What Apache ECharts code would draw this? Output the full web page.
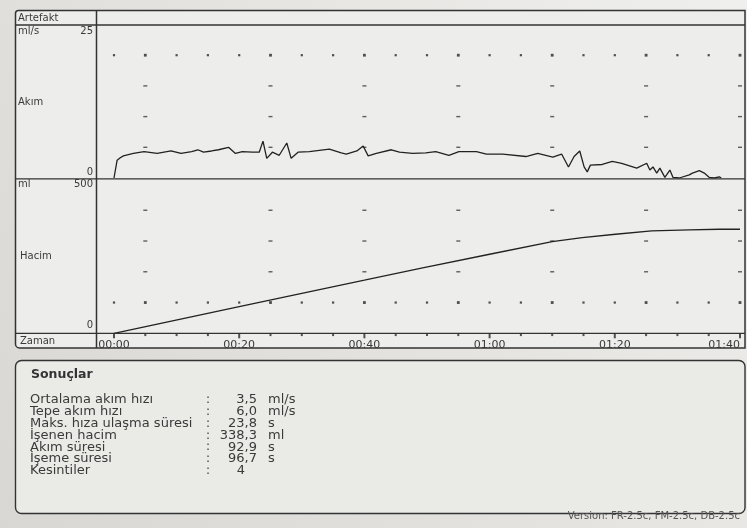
<!DOCTYPE html>
<html>
<head>
<meta charset="utf-8">
<script src="https://cdn.jsdelivr.net/npm/echarts@6/dist/echarts.min.js"></script>
<style>
  html, body { margin: 0; padding: 0; background: #e6e6e3; }
  #c { width: 747px; height: 528px; }
</style>
</head>
<body>
<div id="c"></div>
<script>
// Uroflowmetry record: flow rate (ml/s) and voided volume (ml) over time (s)

const flowTime = [0, 0.5, 1.0, 1.5, 3.1, 4.8, 6.9, 9.1, 10.7, 12.4, 13.4, 14.3, 15.6, 16.7, 18.3, 19.4,
  20.5, 22.1, 23.2, 23.8, 24.4, 25.3, 26.4, 27.6, 28.3, 29.4, 31.2, 34.4, 36.3, 37.1, 38.8, 39.8,
  40.6, 41.9, 44.3, 45.6, 47.7, 49.8, 51.4, 53.5, 55.1, 57.9, 59.5, 62.1, 65.8, 67.7, 70.1, 71.5,
  72.6, 73.5, 74.4, 75.1, 75.6, 76.1, 78.0, 79.6, 81.1, 83.5, 85.1, 85.6, 86.1, 86.7, 87.2, 88.0,
  88.8, 89.3, 90.3, 91.9, 92.4, 93.5, 94.3, 95.1, 95.9, 96.7, 97.0];
const flowRate = [0, 2.9, 3.3, 3.6, 4.0, 4.3, 4.0, 4.4, 4.0, 4.3, 4.6, 4.2, 4.4, 4.6, 5.0, 4.0,
  4.3, 4.2, 4.2, 6.0, 3.2, 4.2, 3.7, 5.7, 3.2, 4.2, 4.3, 4.7, 4.1, 3.9, 4.4, 5.2,
  3.6, 4.0, 4.6, 4.2, 4.0, 4.1, 4.3, 3.7, 4.3, 4.3, 3.9, 3.9, 3.5, 4.0, 3.4, 3.9,
  1.8, 3.5, 4.4, 1.8, 1.0, 2.1, 2.2, 2.7, 2.4, 1.6, 2.4, 1.3, 1.8, 0.8, 1.6, 0.1,
  1.3, 0.1, 0, 0.5, 0.8, 1.2, 0.8, 0.1, 0, 0.2, 0];

const volumeTime = [0, 20, 40, 49.3, 60, 70, 74.8, 80.1, 85.9, 91.9, 96.7, 100];
const volumeMl   = [0, 87, 173, 213, 257, 298, 311, 322, 333, 336, 338.3, 338.3];

const timeTickLabels = ['00:00', '00:20', '00:40', '01:00', '01:20', '01:40'];
const flowAxisMax = 25;
const volumeAxisMax = 500;

// reference grid: dotted rows and short dashes in fixed columns
const gridDotTimes = [0, 5, 10, 15, 20, 25, 30, 35, 40, 45, 50, 55, 60, 65, 70, 75, 80, 85, 90, 95, 100];
const gridDashTimes = [5, 25, 40, 55, 70, 85, 100];
const flowDotLevel = 20;
const flowDashLevels = [5, 10, 15];
const volumeDotLevel = 100;
const volumeDashLevels = [200, 300, 400];
const majorTickTimes = [0, 20, 40, 60, 80, 100];

const resultTitle = 'Sonuçlar';
const resultLabels = ['Ortalama akım hızı', 'Tepe akım hızı', 'Maks. hıza ulaşma süresi',
  'İşenen hacim', 'Akım süresi', 'İşeme süresi', 'Kesintiler'];
const resultValues = ['3,5', '6,0', '23,8', '338,3', '92,9', '96,7', '4'];
const resultUnits = ['ml/s', 'ml/s', 's', 'ml', 's', 's', ''];
const versionText = 'Version: FR-2.5c, FM-2.5c, DB-2.5c';

// ---- drawing ----
const INK = '#333333';
const TXT = '#3a3a3a';
const FONT = 'DejaVu Sans';

const chart = echarts.init(document.getElementById('c'), null, { renderer: 'canvas' });

function zip(a, b) { return a.map((v, i) => [v, b[i]]); }

function gridMarks(dotLevel, dashLevels) {
  const dots = gridDotTimes.map(t => [t, dotLevel, gridDashTimes.includes(t) ? 1 : 0]);
  const dashes = [];
  gridDashTimes.forEach(t => dashLevels.forEach(l => dashes.push([t, l])));
  return { dots, dashes };
}
const flowMarks = gridMarks(flowDotLevel, flowDashLevels);
const volMarks = gridMarks(volumeDotLevel, volumeDashLevels);
// tick marks hanging below the time axis (longer at labelled times)
const majorTicks = majorTickTimes.map(t => [t, 0]);
const minorTicks = gridDotTimes.filter(t => !majorTickTimes.includes(t)).map(t => [t, 0]);

function txt(text, x, y, opts) {
  opts = opts || {};
  return {
    type: 'text', x: x, y: y, z: 20, silent: true,
    style: {
      text: text,
      fill: opts.fill || TXT,
      font: (opts.weight || 'normal') + ' ' + (opts.size || 10) + 'px "' + FONT + '"',
      align: opts.align || 'left', textAlign: opts.align || 'left',
      verticalAlign: 'middle', textVerticalAlign: 'middle'
    }
  };
}
function hline(x1, x2, y, w) {
  return { type: 'line', z: 15, silent: true, shape: { x1: x1, y1: y, x2: x2, y2: y },
    style: { stroke: INK, lineWidth: w || 1.4 } };
}
function vline(x, y1, y2, w) {
  return { type: 'line', z: 15, silent: true, shape: { x1: x, y1: y1, x2: x, y2: y2 },
    style: { stroke: INK, lineWidth: w || 1.4 } };
}

const graphics = [
  // screen panels
  { type: 'rect', z: -5, silent: true, shape: { x: 15.5, y: 10.5, width: 729.5, height: 337.5, r: [3, 0, 0, 4] },
    style: { fill: '#ededeb', stroke: INK, lineWidth: 1.5 } },
  vline(96.5, 10.5, 348, 1.5),
  hline(15.5, 745, 25, 1.3),
  hline(15.5, 745, 178.8, 1.3),
  hline(15.5, 745, 333.3, 1.3),
  { type: 'rect', z: -5, silent: true, shape: { x: 15.5, y: 360.5, width: 729.5, height: 153, r: 6 },
    style: { fill: '#eaeae7', stroke: INK, lineWidth: 1.4 } },

  // left column captions
  txt('Artefakt', 18, 18),
  txt('ml/s', 18, 31),
  txt(String(flowAxisMax), 93, 31, { align: 'right' }),
  txt('Akım', 18, 102),
  txt('0', 93, 172, { align: 'right' }),
  txt('ml', 18, 184),
  txt(String(volumeAxisMax), 93, 184, { align: 'right' }),
  txt('Hacim', 20, 256),
  txt('0', 93, 325, { align: 'right' }),
  txt('Zaman', 20, 341),

  // results block
  txt(resultTitle, 31, 375, { size: 12.5, weight: 'bold', fill: '#333' }),
  txt(versionText, 740, 516, { align: 'right', fill: '#555' })
];

resultLabels.forEach((label, i) => {
  const y = 400 + i * 11.8;
  graphics.push(txt(label, 30, y, { size: 13 }));
  graphics.push(txt(':', 206, y, { size: 12 }));
  const v = resultValues[i];
  graphics.push(txt(v, v.indexOf(',') >= 0 ? 257 : 245, y, { size: 13, align: 'right' }));
  if (resultUnits[i]) graphics.push(txt(resultUnits[i], 268, y, { size: 13 }));
});

const plotLeft = 114, plotRight = 747 - 740;

const option = {
  animation: false,
  backgroundColor: new echarts.graphic.LinearGradient(1, 0, 0, 1, [
    { offset: 0, color: '#efefed' },
    { offset: 1, color: '#d9d7d3' }
  ]),
  grid: [
    { left: plotLeft, right: plotRight, top: 24.5, height: 153.5 },
    { left: plotLeft, right: plotRight, top: 179.5, height: 153.8 }
  ],
  xAxis: [
    { gridIndex: 0, type: 'value', min: 0, max: 100, interval: 20, show: false },
    {
      gridIndex: 1, type: 'value', min: 0, max: 100, interval: 20,
      axisLine: { show: false },
      axisTick: { show: false },
      splitLine: { show: false },
      axisLabel: {
        formatter: v => timeTickLabels[Math.round(v / 20)],
        color: TXT, fontSize: 11, fontFamily: FONT, margin: 6,
        alignMaxLabel: 'right'
      }
    }
  ],
  yAxis: [
    { gridIndex: 0, type: 'value', min: 0, max: flowAxisMax, show: false },
    { gridIndex: 1, type: 'value', min: 0, max: volumeAxisMax, show: false }
  ],
  graphic: graphics,
  series: [
    {
      type: 'scatter', xAxisIndex: 0, yAxisIndex: 0, data: flowMarks.dots, silent: true,
      symbol: 'rect', symbolSize: d => d[2] ? [2.8, 2.8] : [2.2, 2.2],
      itemStyle: { color: '#262626' }
    },
    {
      type: 'scatter', xAxisIndex: 0, yAxisIndex: 0, data: flowMarks.dashes, silent: true,
      symbol: 'rect', symbolSize: [4, 1.4], itemStyle: { color: '#3a3a3a' }
    },
    {
      type: 'scatter', xAxisIndex: 1, yAxisIndex: 1, data: volMarks.dots, silent: true,
      symbol: 'rect', symbolSize: d => d[2] ? [2.8, 2.8] : [2.2, 2.2],
      itemStyle: { color: '#262626' }
    },
    {
      type: 'scatter', xAxisIndex: 1, yAxisIndex: 1, data: volMarks.dashes, silent: true,
      symbol: 'rect', symbolSize: [4, 1.4], itemStyle: { color: '#3a3a3a' }
    },
    {
      type: 'scatter', xAxisIndex: 1, yAxisIndex: 1, data: majorTicks, silent: true, clip: false, z: 20,
      symbol: 'rect', symbolSize: [2, 5], symbolOffset: [0, 2.5],
      itemStyle: { color: '#2a2a2a' }
    },
    {
      type: 'scatter', xAxisIndex: 1, yAxisIndex: 1, data: minorTicks, silent: true, clip: false, z: 20,
      symbol: 'rect', symbolSize: [2, 2.4], symbolOffset: [0, 1.6],
      itemStyle: { color: '#2a2a2a' }
    },
    {
      name: 'Akım', type: 'line', xAxisIndex: 0, yAxisIndex: 0,
      data: zip(flowTime, flowRate), showSymbol: false, silent: true,
      lineStyle: { color: '#222', width: 1.3 }
    },
    {
      name: 'Hacim', type: 'line', xAxisIndex: 1, yAxisIndex: 1,
      data: zip(volumeTime, volumeMl), showSymbol: false, silent: true,
      lineStyle: { color: '#222', width: 1.3 }
    }
  ]
};

chart.setOption(option);
</script>
</body>
</html>
